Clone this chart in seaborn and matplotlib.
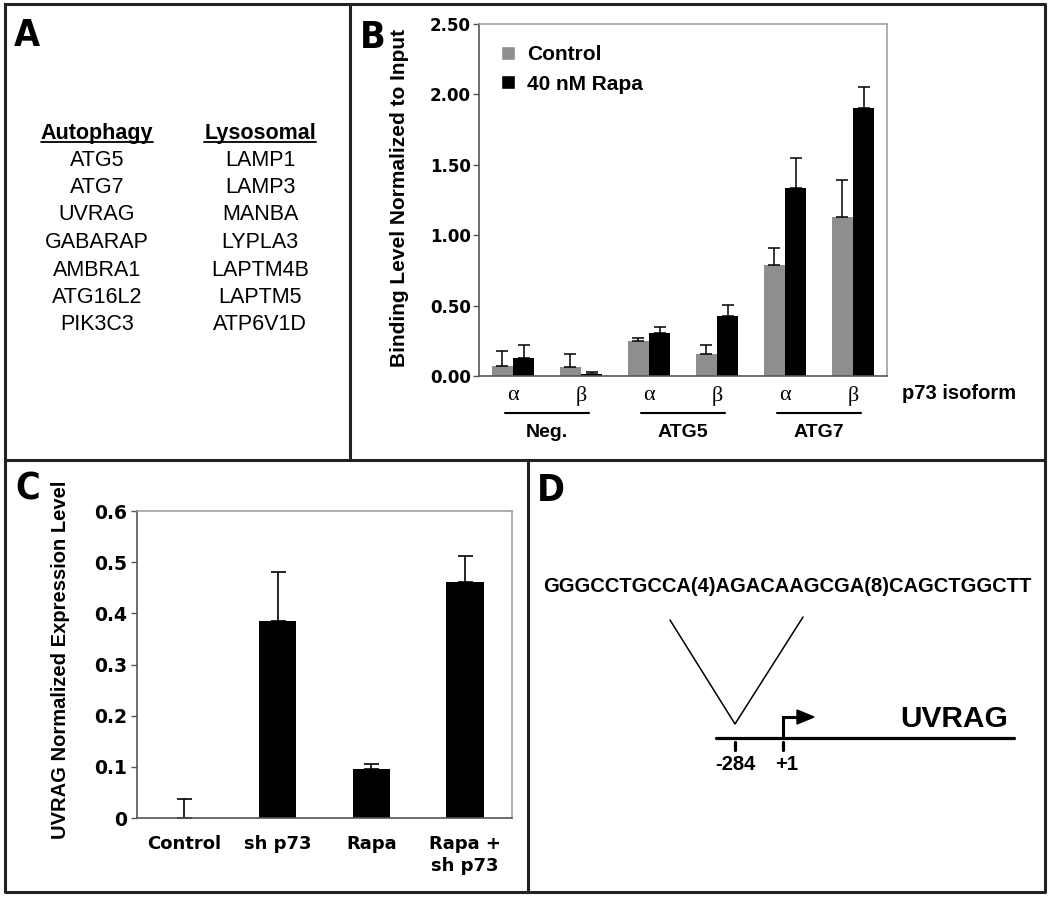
import numpy as np
import pandas as pd
import matplotlib
matplotlib.use("Agg")
import matplotlib.pyplot as plt
import matplotlib.transforms as mtransforms
from matplotlib.patches import Patch, Polygon
from matplotlib.font_manager import FontProperties
import seaborn as sns

sns.set_theme(style="white")
plt.rcParams["font.family"] = ["Liberation Sans", "DejaVu Sans"]
plt.rcParams.update({"text.color": "black", "axes.labelcolor": "black",
                     "xtick.color": "black", "ytick.color": "black"})

# ---- panel A: gene lists
autophagy_genes = ["ATG5", "ATG7", "UVRAG", "GABARAP", "AMBRA1", "ATG16L2", "PIK3C3"]
lysosomal_genes = ["LAMP1", "LAMP3", "MANBA", "LYPLA3", "LAPTM4B", "LAPTM5", "ATP6V1D"]

# ---- panel B: ChIP binding (p73 isoforms)
b_genes = ["Neg.", "ATG5", "ATG7"]
b_isoforms = ["α", "β"]
b_treatments = ["Control", "40 nM Rapa"]
b_control = [0.071, 0.064, 0.246, 0.154, 0.789, 1.128]
b_control_err = [0.109, 0.090, 0.022, 0.064, 0.119, 0.265]
b_rapa = [0.126, 0.012, 0.303, 0.427, 1.332, 1.905]
b_rapa_err = [0.094, 0.019, 0.045, 0.075, 0.215, 0.147]
b_yticks = [0.0, 0.5, 1.0, 1.5, 2.0, 2.5]

# ---- panel C: UVRAG expression
c_conditions = ["Control", "sh p73", "Rapa", "Rapa +\nsh p73"]
c_values = [0.0, 0.3855, 0.0965, 0.462]
c_err = [0.0365, 0.0955, 0.0085, 0.050]
c_yticks = [0.0, 0.1, 0.2, 0.3, 0.4, 0.5, 0.6]

# ---- panel D: promoter scheme
d_sequence = "GGGCCTGCCA(4)AGACAAGCGA(8)CAGCTGGCTT"
d_gene = "UVRAG"
d_site_pos = [-284, 1]
d_site_labels = ["-284", "+1"]

GRAY = "#8e8e8e"
W, H = 1050, 897
fig = plt.figure(figsize=(W / 100, H / 100), dpi=100)
fig.patch.set_facecolor("white")


def px_axes(left, top, right, bottom):
    return fig.add_axes([left / W, 1 - bottom / H, (right - left) / W, (bottom - top) / H])


# overlay in pixel coordinates for frames, panel A and panel D
ov = fig.add_axes([0, 0, 1, 1])
ov.set_xlim(0, W)
ov.set_ylim(H, 0)
ov.axis("off")
ov.patch.set_alpha(0)

frame_kw = dict(color="#222222", lw=2.2, solid_capstyle="projecting")
ov.plot([5, 1045, 1045, 5, 5], [4, 4, 892, 892, 4], **frame_kw)
ov.plot([350, 350], [4, 460], **frame_kw)
ov.plot([5, 1045], [460, 460], **frame_kw)
ov.plot([528, 528], [460, 892], **frame_kw)

label_font = dict(family=["Liberation Sans Narrow", "DejaVu Sans"], stretch="condensed",
                  weight="bold", size=27)
for lab, x, y in [("A", 27, 36), ("B", 373, 38), ("C", 28, 490), ("D", 551, 491)]:
    ov.text(x, y, lab, ha="center", va="center", **label_font)

# panel A
headers = []
for col_x, title, genes in [(97, "Autophagy", autophagy_genes), (260, "Lysosomal", lysosomal_genes)]:
    headers.append(ov.text(col_x, 133, title, ha="center", va="center",
                           fontsize=15.5, fontweight="bold", family="Liberation Sans"))
    for i, g in enumerate(genes):
        ov.text(col_x, 160 + i * 27.5, g, ha="center", va="center",
                fontsize=15.5, family="Liberation Sans")
fig.canvas.draw()
renderer = fig.canvas.get_renderer()
inv = ov.transData.inverted()
for t in headers:
    bb = t.get_window_extent(renderer)
    x0 = inv.transform((bb.x0, bb.y0))[0]
    x1 = inv.transform((bb.x1, bb.y0))[0]
    ov.plot([x0, x1], [142.5, 142.5], color="black", lw=1.3)

# panel B
cats = [f"{g} {iso}" for g in b_genes for iso in b_isoforms]
df_b = pd.DataFrame({
    "cat": cats * 2,
    "treatment": [b_treatments[0]] * len(cats) + [b_treatments[1]] * len(cats),
    "value": b_control + b_rapa,
})
ax_b = px_axes(479, 24, 887, 376)
sns.barplot(data=df_b, x="cat", y="value", hue="treatment", order=cats, hue_order=b_treatments,
            palette={b_treatments[0]: GRAY, b_treatments[1]: "black"}, width=0.62, gap=0,
            saturation=1, errorbar=None, legend=False, linewidth=0, ax=ax_b)
for cont, vals, errs in zip(ax_b.containers, [b_control, b_rapa], [b_control_err, b_rapa_err]):
    xs = [bar.get_x() + bar.get_width() / 2 for bar in cont]
    ax_b.errorbar(xs, vals, yerr=[np.zeros(len(errs)), errs], fmt="none", ecolor="black",
                  elinewidth=1.1, capsize=4.3, capthick=1.1, zorder=1)
ax_b.set_xlim(-0.5, len(cats) - 0.5)
ax_b.set_ylim(0, 2.5)
ax_b.set_yticks(b_yticks)
ax_b.set_yticklabels([f"{v:.2f}" for v in b_yticks])
ax_b.set_xticks(range(len(cats)))
ax_b.set_xticklabels([c.split(" ")[-1] for c in cats])
ax_b.set_xticks(np.arange(-0.5, len(cats), 2), minor=True)
ax_b.tick_params(axis="x", which="major", length=0, pad=7)
ax_b.tick_params(axis="x", which="minor", length=4, width=1, color="#555555", direction="out")
ax_b.tick_params(axis="y", length=4, width=1, color="#555555", direction="out", left=True, pad=2)
ax_b.set_xlabel("")
ax_b.set_ylabel("")
for t in ax_b.get_xticklabels():
    t.set_fontfamily("Liberation Serif")
    t.set_fontsize(16)
for t in ax_b.get_yticklabels():
    t.set_fontfamily("DejaVu Sans")
    t.set_fontweight("bold")
    t.set_fontsize(12)
for side in ["top", "right"]:
    ax_b.spines[side].set_color("#9a9a9a")
    ax_b.spines[side].set_linewidth(1.1)
for side in ["left", "bottom"]:
    ax_b.spines[side].set_color("#555555")
    ax_b.spines[side].set_linewidth(1.2)
ax_b.text(-0.196, 0.506, "Binding Level Normalized to Input", transform=ax_b.transAxes,
          rotation=90, ha="center", va="center", fontsize=15, fontweight="bold")
ax_b.text(1.037, -0.05, "p73 isoform", transform=ax_b.transAxes, ha="left", va="center",
          fontsize=14.5, fontweight="bold")
blend = mtransforms.blended_transform_factory(ax_b.transData, ax_b.transAxes)
for gi, g in enumerate(b_genes):
    c = gi * len(b_isoforms) + (len(b_isoforms) - 1) / 2
    ax_b.plot([c - 0.62, c + 0.62], [-0.105, -0.105], transform=blend, color="black",
              lw=1.5, clip_on=False)
    ax_b.text(c, -0.16, g, transform=blend, ha="center", va="center",
              fontsize=14, fontweight="bold")
ax_b.legend(handles=[Patch(facecolor=GRAY, label=b_treatments[0]),
                     Patch(facecolor="black", label=b_treatments[1])],
            loc="upper left", bbox_to_anchor=(0.055, 0.94), frameon=False,
            prop=FontProperties(family="Liberation Sans", weight="bold", size=15),
            handlelength=0.65, handleheight=0.65, handletextpad=0.6, labelspacing=0.5,
            borderpad=0, borderaxespad=0)

# panel C
ax_c = px_axes(137, 511, 512, 818)
sns.barplot(x=c_conditions, y=c_values, color="black", width=0.4, saturation=1,
            linewidth=0, ax=ax_c)
xs_c = [bar.get_x() + bar.get_width() / 2 for bar in ax_c.containers[0]]
ax_c.errorbar(xs_c, c_values, yerr=[np.zeros(len(c_err)), c_err], fmt="none", ecolor="black",
              elinewidth=1.2, capsize=5.4, capthick=1.2, zorder=1)
ax_c.set_xlim(-0.5, len(c_conditions) - 0.5)
ax_c.set_ylim(0, 0.6)
ax_c.set_yticks(c_yticks)
ax_c.set_yticklabels([f"{v:g}" for v in c_yticks])
ax_c.set_xticks(np.arange(0.5, len(c_conditions) - 0.5, 1), minor=True)
ax_c.tick_params(axis="x", which="major", length=0, pad=12)
ax_c.tick_params(axis="x", which="minor", length=4, width=1, color="#555555", direction="out")
ax_c.tick_params(axis="y", length=4, width=1, color="#555555", direction="out", left=True, pad=3)
for t in ax_c.get_xticklabels():
    t.set_fontfamily("DejaVu Sans")
    t.set_fontweight("bold")
    t.set_fontsize(13)
    t.set_linespacing(1.3)
for t in ax_c.get_yticklabels():
    t.set_fontfamily("DejaVu Sans")
    t.set_fontweight("bold")
    t.set_fontsize(13.5)
for side in ["top", "right"]:
    ax_c.spines[side].set_color("#9a9a9a")
    ax_c.spines[side].set_linewidth(1.1)
for side in ["left", "bottom"]:
    ax_c.spines[side].set_color("#555555")
    ax_c.spines[side].set_linewidth(1.2)
ax_c.text(-0.203, 0.515, "UVRAG Normalized Expression Level", transform=ax_c.transAxes,
          rotation=90, ha="center", va="center", fontsize=14.5, fontweight="bold")

# panel D
def site_px(pos):
    return 783 + (pos - 1) * (48 / 285)

ov.text(787, 587, d_sequence, ha="center", va="center", fontsize=14.5, fontweight="bold")
ov.plot([670, site_px(d_site_pos[0]), 803], [620, 724, 617], color="black", lw=1.1)
ov.plot([716, 1014], [738, 738], color="black", lw=2.3)
for pos, lab in zip(d_site_pos, d_site_labels):
    ov.plot([site_px(pos)] * 2, [742, 750], color="black", lw=2.3)
    ov.text(site_px(pos) + (4 if pos > 0 else 0), 765, lab, ha="center", va="center",
            fontsize=14.5, fontweight="bold")
tss = site_px(d_site_pos[1])
ov.plot([tss, tss, tss + 15], [738, 717, 717], color="black", lw=2.2,
        solid_joinstyle="miter")
ov.add_patch(Polygon([[tss + 14, 710], [tss + 14, 724], [tss + 31, 717]],
                     closed=True, color="black"))
ov.text(954, 719, d_gene, ha="center", va="center", fontsize=21.5, fontweight="bold")

fig.savefig("out.png", dpi=100, facecolor="white")
